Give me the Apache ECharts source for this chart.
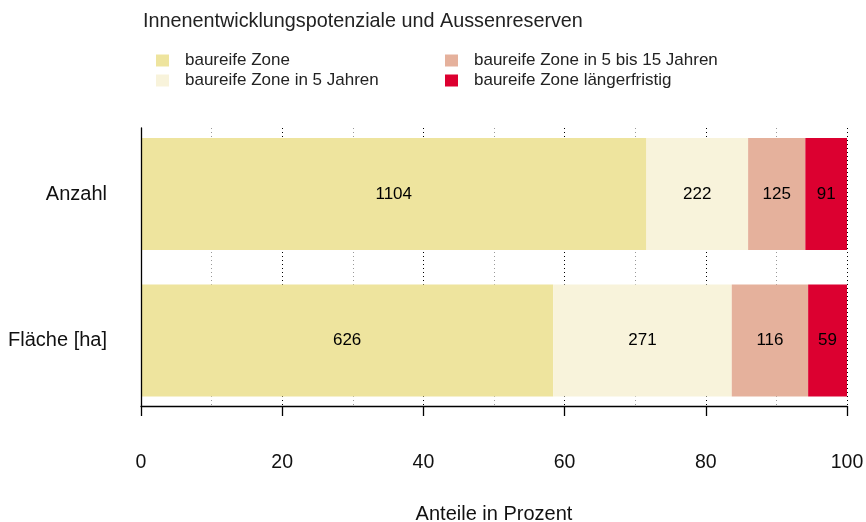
<!DOCTYPE html>
<html><head><meta charset="utf-8">
<script src="https://cdn.jsdelivr.net/npm/echarts@6/dist/echarts.min.js"></script>
<style>html,body{margin:0;padding:0;background:#fff}#c{width:866px;height:522px}</style>
</head><body><div id="c"></div>
<script>
const categories = ['Anzahl', 'Fläche [ha]'];
const seriesNames = ['baureife Zone', 'baureife Zone in 5 Jahren', 'baureife Zone in 5 bis 15 Jahren', 'baureife Zone längerfristig'];
const bauZone = [1104, 626];
const bauZone5 = [222, 271];
const bauZone5bis15 = [125, 116];
const bauZoneLang = [91, 59];
const xTicks = [0, 20, 40, 60, 80, 100];
const colors = ['#EEE49E', '#F8F3DB', '#E5B19C', '#DC0030'];

const raw = [bauZone, bauZone5, bauZone5bis15, bauZoneLang];
const totals = categories.map((c, i) => raw.reduce((s, a) => s + a[i], 0));
const FONT = 'Liberation Sans, Arial, sans-serif';

const chart = echarts.init(document.getElementById('c'), null, {renderer: 'canvas'});
chart.setOption({
  animation: false,
  title: {text: 'Innenentwicklungspotenziale und Aussenreserven', left: 138, top: 7,
    textStyle: {fontFamily: FONT, fontSize: 19.8, fontWeight: 'normal', color: '#222'}},
  legend: [
    {data: [seriesNames[0], seriesNames[1]], orient: 'vertical', left: 151, top: 47,
     itemWidth: 13, itemHeight: 12, itemGap: 3, icon: 'rect',
     textStyle: {fontFamily: FONT, fontSize: 17, color: '#222', padding: [0, 0, 0, 11]}},
    {data: [seriesNames[2], seriesNames[3]], orient: 'vertical', left: 440, top: 47,
     itemWidth: 13, itemHeight: 12, itemGap: 3, icon: 'rect',
     textStyle: {fontFamily: FONT, fontSize: 17, color: '#222', padding: [0, 0, 0, 11]}}
  ],
  grid: [
    {left: 141, right: 19, top: 120.75, height: 293, outerBoundsMode: 'none', containLabel: false},
    {left: 141, right: 19, top: 128, bottom: 116, outerBoundsMode: 'none', containLabel: false}
  ],
  xAxis: [
    {gridIndex: 0, type: 'value', min: 0, max: 100, show: false},
    {gridIndex: 1, type: 'value', min: 0, max: 100, interval: 20,
     axisLine: {show: true, lineStyle: {color: '#000', width: 1.3}},
     axisTick: {show: true, length: 10, lineStyle: {color: '#000', width: 1.3}},
     axisLabel: {margin: 47, fontFamily: FONT, fontSize: 19.5, color: '#111',
       customValues: xTicks},
     splitLine: {show: true, lineStyle: {color: '#000', type: [1, 3], width: 1}},
     minorTick: {show: false, splitNumber: 2},
     minorSplitLine: {show: true, lineStyle: {color: '#999', type: [1, 3], width: 1}},
     name: 'Anteile in Prozent', nameLocation: 'middle', nameGap: 98,
     nameTextStyle: {fontFamily: FONT, fontSize: 20, color: '#111'}}
  ],
  yAxis: [
    {gridIndex: 0, type: 'category', data: categories, inverse: true,
     axisLine: {show: false}, axisTick: {show: false},
     axisLabel: {margin: 34, fontFamily: FONT, fontSize: 20, color: '#111'}},
    {gridIndex: 1, type: 'value', min: 0, max: 1, z: 10,
     axisLine: {show: true, lineStyle: {color: '#000', width: 1.3}},
     axisTick: {show: false}, axisLabel: {show: false}, splitLine: {show: false}}
  ],
  series: raw.map((arr, k) => ({
    name: seriesNames[k], type: 'bar', stack: 'total', xAxisIndex: 0, yAxisIndex: 0,
    barWidth: 112,
    itemStyle: {color: colors[k]},
    data: arr.map((v, i) => ({value: v / totals[i] * 100, raw: v})),
    label: {show: true, position: 'inside', fontFamily: FONT, fontSize: 17, color: '#000',
      formatter: p => String(p.data.raw)},
    z: 3
  }))
});
</script></body></html>
